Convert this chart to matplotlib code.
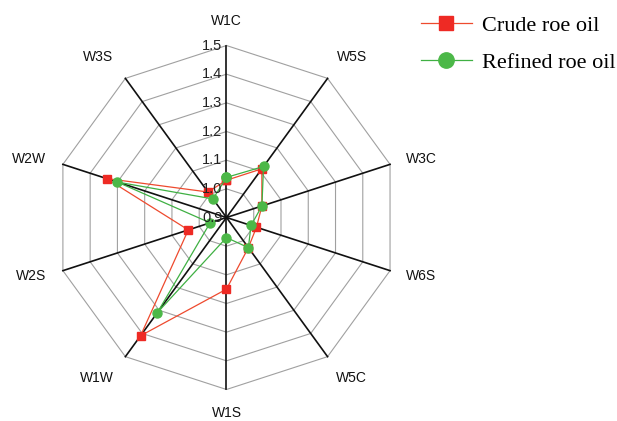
import numpy as np
import matplotlib.pyplot as plt
from matplotlib.transforms import offset_copy

plt.rcParams['font.family'] = ['Liberation Sans', 'DejaVu Sans']

# categories clockwise from the top
labels = ["W1C", "W5S", "W3C", "W6S", "W5C", "W1S", "W1W", "W2S", "W2W", "W3S"]
crude = [1.03, 1.11, 1.03, 1.01, 1.03, 1.15, 1.41, 1.04, 1.34, 1.01]
refined = [1.04, 1.12, 1.03, 0.99, 1.03, 0.97, 1.31, 0.96, 1.30, 0.98]
ring_values = [1.0, 1.1, 1.2, 1.3, 1.4, 1.5]
tick_values = [0.9, 1.0, 1.1, 1.2, 1.3, 1.4, 1.5]
tick_text = ["0.9", "1.0", "1.1", "1.2", "1.3", "1.4", "1.5"]

# pixel offsets of the category labels from the outer vertices (layout)
label_offsets = [(0, 25), (24, 21), (31, 5), (31, -5), (24, -21),
                 (0, -24), (-29, -21), (-32, -5), (-34, 5), (-27, 21)]

n = len(labels)
theta = np.linspace(0, 2 * np.pi, n, endpoint=False)
theta_closed = np.append(theta, theta[0])

fig = plt.figure(figsize=(6.17, 4.21), dpi=100)
ax = fig.add_axes([0.0883, 0.0748, 0.5575, 0.8171], projection="polar")
ax.set_theta_zero_location("N")
ax.set_theta_direction(-1)
ax.set_ylim(0.9, 1.5)
ax.axis("off")

# decagon rings
for r in ring_values:
    ax.plot(theta_closed, [r] * (n + 1), color="#a0a0a0", lw=0.8,
            clip_on=False, zorder=1)
# spokes
for t in theta:
    ax.plot([t, t], [0.9, 1.5], color="#111111", lw=1.2, clip_on=False, zorder=2)

# series
ax.plot(theta_closed, np.append(crude, crude[0]), color="#ee4a2e", lw=0.9,
        marker="s", markersize=6, markerfacecolor="#ee2a24",
        markeredgecolor="#ee2a24", clip_on=False, zorder=3,
        label="Crude roe oil")
ax.plot(theta_closed, np.append(refined, refined[0]), color="#3fb043", lw=0.9,
        marker="o", markersize=6.5, markerfacecolor="#4cb848",
        markeredgecolor="#4cb848", clip_on=False, zorder=4,
        label="Refined roe oil")

# radial tick labels along the top spoke
tick_tr = offset_copy(ax.transData, fig=fig, x=-3, y=0, units="points")
for v, s in zip(tick_values, tick_text):
    ax.text(0, v, s, transform=tick_tr, ha="right", va="center",
            fontsize=10.5, color="#222222", zorder=5)

# category labels
for t, lab, (dx, dy) in zip(theta, labels, label_offsets):
    tr = offset_copy(ax.transData, fig=fig, x=dx, y=dy, units="dots")
    ax.text(t, 1.5, lab, transform=tr, ha="center", va="center",
            fontsize=10, color="#111111", clip_on=False)

fig.legend(loc="upper left", bbox_to_anchor=(0.682, 0.964), frameon=False,
           prop={"family": "Liberation Serif", "size": 16},
           handlelength=2.3, handletextpad=0.45, labelspacing=0.74,
           borderpad=0, borderaxespad=0, markerscale=1.7)

fig.savefig("out.png", dpi=100)
